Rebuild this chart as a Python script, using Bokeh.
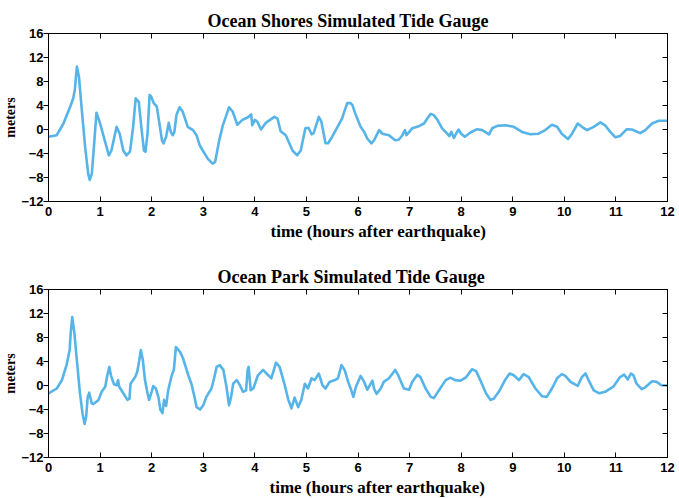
from bokeh.plotting import figure
from bokeh.models import Range1d, FixedTicker, LinearAxis, Title
from bokeh.layouts import column
from bokeh.embed import file_html
from bokeh.resources import INLINE

x_ticks = list(range(0, 13))
y_ticks = [-12, -8, -4, 0, 4, 8, 12, 16]

shores_t = [0, 0.16, 0.29, 0.42, 0.48, 0.51, 0.55, 0.59, 0.64, 0.71,
            0.77, 0.80, 0.84, 0.89, 0.93, 1.0, 1.09, 1.17, 1.22, 1.32,
            1.38, 1.45, 1.51, 1.58, 1.64, 1.69, 1.75, 1.80, 1.85, 1.88,
            1.92, 1.96, 1.99, 2.04, 2.10, 2.15, 2.20, 2.23, 2.28, 2.33,
            2.37, 2.41, 2.44, 2.48, 2.54, 2.60, 2.70, 2.80, 2.87, 2.93,
            2.99, 3.09, 3.18, 3.23, 3.31, 3.38, 3.50, 3.57, 3.66, 3.76,
            3.86, 3.93, 3.95, 4.0, 4.05, 4.12, 4.21, 4.38, 4.44, 4.50,
            4.60, 4.73, 4.82, 4.89, 4.98, 5.04, 5.10, 5.14, 5.24, 5.29,
            5.37, 5.42, 5.50, 5.69, 5.79, 5.85, 5.89, 5.95, 6.05, 6.12,
            6.18, 6.26, 6.31, 6.41, 6.47, 6.60, 6.72, 6.79, 6.86, 6.91,
            6.94, 7.05, 7.18, 7.28, 7.34, 7.41, 7.47, 7.54, 7.63, 7.73,
            7.77, 7.81, 7.86, 7.90, 7.95, 8.0, 8.07, 8.18, 8.31, 8.41,
            8.54, 8.60, 8.70, 8.86, 9.02, 9.18, 9.34, 9.50, 9.63, 9.76,
            9.86, 9.95, 10.07, 10.15, 10.26, 10.34, 10.44, 10.57, 10.70, 10.79,
            10.89, 10.99, 11.08, 11.21, 11.31, 11.47, 11.57, 11.70, 11.83, 12.0]
shores_m = [-1.2, -0.95, 1.0, 3.8, 5.2, 6.6, 10.5, 8.8, 3.8, -2.9,
            -7.4, -8.4, -7.4, -1.8, 2.8, 1.0, -1.8, -4.3, -3.5, 0.45,
            -0.7, -3.5, -4.3, -3.7, 0.4, 5.2, 4.6, 0.4, -3.5, -3.7,
            -0.7, 5.75, 5.5, 4.4, 3.8, 1.0, -1.8, -2.3, -1.2, 1.1,
            -0.4, -0.95, -0.4, 2.4, 3.7, 3.0, 0.45, -0.1, -0.95, -2.6,
            -3.5, -4.9, -5.7, -5.4, -1.8, 0.7, 3.7, 3.0, 0.8, 1.6,
            2.0, 2.5, 0.7, 1.6, 1.3, 0.0, 1.1, 2.1, 1.8, -0.3,
            -0.95, -3.5, -4.3, -3.5, 0.2, 0.3, -0.8, -0.6, 2.1, 1.3,
            -2.3, -2.3, -1.2, 1.8, 4.4, 4.4, 4.1, 2.6, 0.45, -0.4,
            -1.5, -2.3, -1.8, -0.1, -0.7, -0.95, -1.8, -1.7, -0.95, -0.1,
            -0.95, 0.2, 0.55, 1.0, 1.8, 2.6, 2.4, 1.6, 0.2, -0.7,
            -1.1, -0.4, -1.4, -0.7, 0.0, -0.7, -1.2, -0.5, 0.05, -0.1,
            -0.8, 0.2, 0.6, 0.7, 0.45, -0.4, -0.8, -0.7, -0.1, 0.8,
            0.45, -0.7, -1.6, -0.7, 1.0, 0.45, -0.1, 0.45, 1.2, 0.7,
            -0.4, -1.3, -1.1, 0.05, 0.0, -0.6, -0.1, 1.0, 1.45, 1.45]

park_t = [0, 0.16, 0.26, 0.35, 0.41, 0.43, 0.46, 0.50, 0.55, 0.61,
          0.66, 0.70, 0.73, 0.76, 0.79, 0.84, 0.87, 0.97, 1.03, 1.10,
          1.14, 1.18, 1.21, 1.27, 1.32, 1.35, 1.37, 1.45, 1.53, 1.57,
          1.59, 1.68, 1.72, 1.76, 1.79, 1.83, 1.87, 1.92, 1.95, 2.0,
          2.03, 2.08, 2.13, 2.17, 2.21, 2.24, 2.28, 2.32, 2.39, 2.43,
          2.47, 2.55, 2.61, 2.71, 2.77, 2.83, 2.87, 2.94, 3.0, 3.06,
          3.16, 3.21, 3.26, 3.32, 3.39, 3.45, 3.50, 3.54, 3.58, 3.65,
          3.71, 3.77, 3.83, 3.86, 3.88, 3.92, 3.97, 4.06, 4.16, 4.26,
          4.32, 4.41, 4.48, 4.58, 4.65, 4.71, 4.77, 4.84, 4.90, 4.97,
          5.03, 5.10, 5.16, 5.24, 5.31, 5.37, 5.45, 5.55, 5.61, 5.68,
          5.74, 5.81, 5.87, 5.91, 5.96, 6.05, 6.12, 6.18, 6.23, 6.28,
          6.31, 6.36, 6.44, 6.50, 6.60, 6.72, 6.78, 6.89, 6.99, 7.05,
          7.15, 7.21, 7.31, 7.41, 7.47, 7.57, 7.70, 7.79, 7.88, 7.99,
          8.10, 8.21, 8.29, 8.37, 8.48, 8.57, 8.63, 8.73, 8.85, 8.94,
          9.02, 9.12, 9.21, 9.31, 9.44, 9.57, 9.66, 9.76, 9.86, 9.95,
          10.02, 10.12, 10.26, 10.34, 10.41, 10.47, 10.57, 10.68, 10.79, 10.95,
          11.08, 11.16, 11.23, 11.29, 11.34, 11.40, 11.50, 11.57, 11.70, 11.79,
          11.88, 12.0]
park_m = [-1.33, -0.5, 0.9, 3.4, 5.9, 8.7, 11.4, 8.9, 4.2, -1.3,
          -4.7, -6.4, -5.2, -1.9, -1.2, -3.0, -3.1, -2.4, -1.05, -0.2,
          1.7, 3.1, 1.7, 0.2, 0.05, 0.9, -0.2, -1.3, -2.4, -2.2,
          0.3, 1.4, 2.3, 4.2, 5.9, 4.2, 0.9, -1.3, -2.4, -1.05,
          -0.1, -0.5, -1.9, -4.1, -4.6, -2.4, -3.4, -0.8, 1.7, 2.6,
          6.4, 5.6, 4.5, 1.7, 0.3, -1.9, -3.6, -4.0, -3.3, -1.9,
          -0.5, 1.2, 3.1, 3.4, 2.6, -0.2, -3.3, -1.9, 0.3, 0.9,
          0.05, -1.05, -0.8, 2.6, 3.1, -0.8, -0.5, 1.7, 2.6, 1.7,
          1.2, 3.8, 3.1, 0.05, -2.4, -3.8, -2.0, -3.6, -2.4, 0.3,
          -0.5, 1.2, 0.9, 2.0, 0.05, -0.5, 0.6, 0.9, 1.2, 3.4,
          2.6, 0.6, -0.8, -1.9, -0.2, 1.6, 0.6, -0.7, 0.05, 0.8,
          -0.5, -1.4, -0.5, 0.6, 1.2, 2.6, 1.7, -0.5, -0.7, 0.6,
          1.8, 1.4, -0.5, -1.9, -2.1, -0.8, 0.9, 1.3, 0.9, 0.8,
          1.4, 2.7, 2.4, 0.9, -1.3, -2.4, -2.2, -1.05, 0.9, 2.0,
          1.7, 0.9, 1.9, 1.4, -0.5, -1.8, -1.9, -0.5, 1.2, 1.9,
          1.6, 0.6, -0.05, 1.4, 2.0, 0.9, -0.8, -1.3, -1.05, -0.2,
          1.4, 1.8, 1.0, 2.0, 1.7, 0.3, -0.6, -0.3, 0.7, 0.6,
          0.05, 0.0]

LINE = "#56B4E9"
SERIF = "Liberation Serif"
SANS = "Liberation Sans"


def make_fig(title, t, m, h, b_top, b_bottom, t_off, xl_off):
    p = figure(width=679, height=h, x_range=Range1d(0, 12), y_range=Range1d(-12, 16),
               output_backend="svg", toolbar_location=None,
               min_border_left=48, min_border_right=12,
               min_border_top=b_top, min_border_bottom=b_bottom)
    p.background_fill_color = "white"
    p.border_fill_color = "white"
    p.outline_line_color = "black"
    p.outline_line_width = 1
    p.grid.visible = False

    p.title.text = title
    p.title.text_font = SERIF
    p.title.text_font_size = "18px"
    p.title.text_font_style = "bold"
    p.title.text_color = "black"
    p.title.align = "left"
    p.title.offset = t_off
    p.title.standoff = 5

    p.line(t, m, line_color=LINE, line_width=2.6, line_join="round")

    xa = p.xaxis[0]
    xa.ticker = FixedTicker(ticks=x_ticks)
    xa.major_tick_in = 5
    xa.major_tick_out = 0
    xa.minor_tick_line_color = None
    xa.major_label_text_font = SANS
    xa.major_label_text_font_style = "bold"
    xa.major_label_text_font_size = "13px"
    xa.major_label_text_color = "black"
    xa.major_label_standoff = 5
    xa.axis_line_color = "black"

    ya = p.yaxis[0]
    ya.ticker = FixedTicker(ticks=y_ticks)
    ya.major_tick_in = 0
    ya.major_tick_out = 5
    ya.minor_tick_line_color = None
    ya.major_label_text_font = SANS
    ya.major_label_text_font_style = "bold"
    ya.major_label_text_font_size = "13px"
    ya.major_label_text_color = "black"
    ya.major_label_standoff = 0
    ya.axis_label = "meters"
    ya.axis_label_text_font = SERIF
    ya.axis_label_text_font_size = "14px"
    ya.axis_label_text_font_style = "bold"
    ya.axis_label_text_color = "black"
    ya.axis_label_standoff = 0
    ya.axis_line_color = "black"

    top = LinearAxis(ticker=FixedTicker(ticks=x_ticks), major_tick_in=5, major_tick_out=0,
                     minor_tick_line_color=None, major_label_text_font_size="1px",
                     major_label_text_color=None,
                     major_label_overrides={v: "" for v in x_ticks},
                     major_label_standoff=0, axis_line_color="black")
    right = LinearAxis(ticker=FixedTicker(ticks=y_ticks), major_tick_in=5, major_tick_out=0,
                       minor_tick_line_color=None, major_label_text_font_size="1px",
                       major_label_text_color=None,
                       major_label_overrides={v: "" for v in y_ticks},
                       major_label_standoff=0, axis_line_color="black")
    p.add_layout(top, "above")
    p.add_layout(right, "right")

    xl = Title(text="time (hours after earthquake)", align="left", offset=xl_off,
               text_font=SERIF, text_font_size="17px", text_font_style="bold",
               text_color="black", standoff=3)
    p.add_layout(xl, "below")
    return p


p1 = make_fig("Ocean Shores Simulated Tide Gauge", shores_t, shores_m,
              260, 33, 59, 159, 222)
p2 = make_fig("Ocean Park Simulated Tide Gauge", park_t, park_m,
              238, 29, 41, 169, 221)

layout = column(p1, p2, spacing=0)
open("out.html", "w").write(file_html(layout, INLINE))
